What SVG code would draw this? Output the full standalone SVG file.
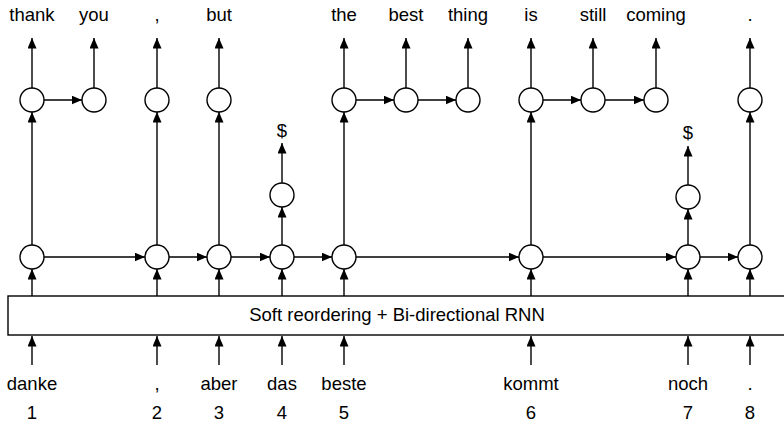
<svg xmlns="http://www.w3.org/2000/svg" width="784" height="423" viewBox="0 0 784 423">
<defs>
<marker id="ah" markerUnits="userSpaceOnUse" markerWidth="11" markerHeight="9" refX="10.5" refY="4.5" orient="auto">
<path d="M0,0 L10.5,4.5 L0,9 z" fill="#000"/>
</marker>
</defs>
<style>
.n{fill:#fff;stroke:#000;stroke-width:1.4}
.c{stroke:#000;stroke-width:1.4;fill:none;marker-end:url(#ah)}
.t{font-family:"Liberation Sans",Arial,sans-serif;font-size:18.5px;fill:#000;text-anchor:middle}
</style>
<rect width="784" height="423" fill="#fff"/>
<g id="box">
<rect x="8" y="296" width="780" height="39" fill="#fff" stroke="#000" stroke-width="1.4"/>
<text class="t" x="397" y="321">Soft reordering + Bi-directional RNN</text>
</g>
<g id="connectors">
<line class="c" x1="32" y1="365" x2="32" y2="336"/>
<line class="c" x1="157" y1="365" x2="157" y2="336"/>
<line class="c" x1="219" y1="365" x2="219" y2="336"/>
<line class="c" x1="282" y1="365" x2="282" y2="336"/>
<line class="c" x1="344" y1="365" x2="344" y2="336"/>
<line class="c" x1="531" y1="365" x2="531" y2="336"/>
<line class="c" x1="688" y1="365" x2="688" y2="336"/>
<line class="c" x1="750" y1="365" x2="750" y2="336"/>
<line class="c" x1="32" y1="296" x2="32" y2="269"/>
<line class="c" x1="157" y1="296" x2="157" y2="269"/>
<line class="c" x1="219" y1="296" x2="219" y2="269"/>
<line class="c" x1="282" y1="296" x2="282" y2="269"/>
<line class="c" x1="344" y1="296" x2="344" y2="269"/>
<line class="c" x1="531" y1="296" x2="531" y2="269"/>
<line class="c" x1="688" y1="296" x2="688" y2="269"/>
<line class="c" x1="750" y1="296" x2="750" y2="269"/>
<line class="c" x1="44" y1="257" x2="145" y2="257"/>
<line class="c" x1="169" y1="257" x2="207" y2="257"/>
<line class="c" x1="231" y1="257" x2="270" y2="257"/>
<line class="c" x1="294" y1="257" x2="332" y2="257"/>
<line class="c" x1="356" y1="257" x2="519" y2="257"/>
<line class="c" x1="543" y1="257" x2="676" y2="257"/>
<line class="c" x1="700" y1="257" x2="738" y2="257"/>
<line class="c" x1="32" y1="245" x2="32" y2="112"/>
<line class="c" x1="157" y1="245" x2="157" y2="112"/>
<line class="c" x1="219" y1="245" x2="219" y2="112"/>
<line class="c" x1="344" y1="245" x2="344" y2="112"/>
<line class="c" x1="531" y1="245" x2="531" y2="112"/>
<line class="c" x1="750" y1="245" x2="750" y2="112"/>
<line class="c" x1="282" y1="245" x2="282" y2="207"/>
<line class="c" x1="282" y1="183" x2="282" y2="143"/>
<line class="c" x1="688" y1="245" x2="688" y2="209"/>
<line class="c" x1="688" y1="185" x2="688" y2="146"/>
<line class="c" x1="44" y1="100" x2="82" y2="100"/>
<line class="c" x1="356" y1="100" x2="394" y2="100"/>
<line class="c" x1="418" y1="100" x2="456" y2="100"/>
<line class="c" x1="543" y1="100" x2="581" y2="100"/>
<line class="c" x1="605" y1="100" x2="644" y2="100"/>
<line class="c" x1="32" y1="88" x2="32" y2="38"/>
<line class="c" x1="94" y1="88" x2="94" y2="38"/>
<line class="c" x1="157" y1="88" x2="157" y2="38"/>
<line class="c" x1="219" y1="88" x2="219" y2="38"/>
<line class="c" x1="344" y1="88" x2="344" y2="38"/>
<line class="c" x1="406" y1="88" x2="406" y2="38"/>
<line class="c" x1="468" y1="88" x2="468" y2="38"/>
<line class="c" x1="531" y1="88" x2="531" y2="38"/>
<line class="c" x1="593" y1="88" x2="593" y2="38"/>
<line class="c" x1="656" y1="88" x2="656" y2="38"/>
<line class="c" x1="750" y1="88" x2="750" y2="38"/>
</g>
<g id="enc1"><circle class="n" cx="32" cy="257" r="12"/></g>
<g id="enc2"><circle class="n" cx="157" cy="257" r="12"/></g>
<g id="enc3"><circle class="n" cx="219" cy="257" r="12"/></g>
<g id="enc4"><circle class="n" cx="282" cy="257" r="12"/></g>
<g id="enc5"><circle class="n" cx="344" cy="257" r="12"/></g>
<g id="enc6"><circle class="n" cx="531" cy="257" r="12"/></g>
<g id="enc7"><circle class="n" cx="688" cy="257" r="12"/></g>
<g id="enc8"><circle class="n" cx="750" cy="257" r="12"/></g>
<g id="eos4"><circle class="n" cx="282" cy="195" r="12"/></g>
<g id="eos7"><circle class="n" cx="688" cy="197" r="12"/></g>
<g id="dec-thank"><circle class="n" cx="32" cy="100" r="12"/></g>
<g id="dec-you"><circle class="n" cx="94" cy="100" r="12"/></g>
<g id="dec-comma"><circle class="n" cx="157" cy="100" r="12"/></g>
<g id="dec-but"><circle class="n" cx="219" cy="100" r="12"/></g>
<g id="dec-the"><circle class="n" cx="344" cy="100" r="12"/></g>
<g id="dec-best"><circle class="n" cx="406" cy="100" r="12"/></g>
<g id="dec-thing"><circle class="n" cx="468" cy="100" r="12"/></g>
<g id="dec-is"><circle class="n" cx="531" cy="100" r="12"/></g>
<g id="dec-still"><circle class="n" cx="593" cy="100" r="12"/></g>
<g id="dec-coming"><circle class="n" cx="656" cy="100" r="12"/></g>
<g id="dec-period"><circle class="n" cx="750" cy="100" r="12"/></g>
<g id="outputs">
<text class="t" x="32" y="21">thank</text>
<text class="t" x="94" y="21">you</text>
<text class="t" x="157" y="21">,</text>
<text class="t" x="219" y="21">but</text>
<text class="t" x="344" y="21">the</text>
<text class="t" x="406" y="21">best</text>
<text class="t" x="468" y="21">thing</text>
<text class="t" x="531" y="21">is</text>
<text class="t" x="593" y="21">still</text>
<text class="t" x="656" y="21">coming</text>
<text class="t" x="750" y="21">.</text>
<text class="t" x="282" y="137">$</text>
<text class="t" x="688" y="139">$</text>
</g>
<g id="inputs">
<text class="t" x="32" y="390">danke</text>
<text class="t" x="157" y="390">,</text>
<text class="t" x="219" y="390">aber</text>
<text class="t" x="282" y="390">das</text>
<text class="t" x="344" y="390">beste</text>
<text class="t" x="531" y="390">kommt</text>
<text class="t" x="688" y="390">noch</text>
<text class="t" x="750" y="390">.</text>
<text class="t" x="32" y="419">1</text>
<text class="t" x="157" y="419">2</text>
<text class="t" x="219" y="419">3</text>
<text class="t" x="282" y="419">4</text>
<text class="t" x="344" y="419">5</text>
<text class="t" x="531" y="419">6</text>
<text class="t" x="688" y="419">7</text>
<text class="t" x="750" y="419">8</text>
</g>
</svg>
